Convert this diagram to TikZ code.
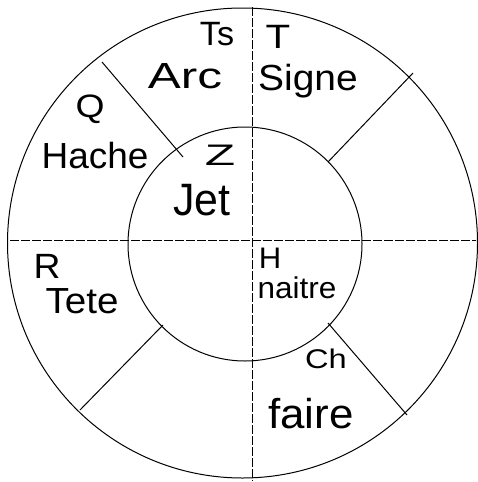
\documentclass[tikz,border=0pt]{standalone}
\usepackage{fontspec}
\setmainfont{Liberation Sans}
\begin{document}
\begin{tikzpicture}[x=1pt,y=-1pt,line width=1pt,
  big/.style={font=\fontsize{33}{33}\selectfont, inner sep=0pt, anchor=base, yscale=1.1},
  small/.style={font=\fontsize{27}{27}\selectfont, xscale=1.15, inner sep=0pt, anchor=base},
  axis/.style={line width=0.9pt, dash pattern=on 9pt off 2pt}]
\useasboundingbox (0,0) rectangle (477,482);
% circles
\coordinate (oc) at (242.5,243);
\coordinate (ic) at (245,244);
\draw (oc) circle[radius=235pt];
\draw (ic) circle[radius=117pt];
% axes
\coordinate (hl) at (10,240);
\coordinate (hr) at (476,240);
\coordinate (vt) at (252,7);
\coordinate (vb) at (252,481);
\draw[axis] (hl) -- (hr);
\draw[axis] (vt) -- (vb);
% diagonal spokes
\coordinate (ulo) at (102,62);   \coordinate (uli) at (183,157);
\coordinate (uro) at (413,73);   \coordinate (uri) at (328,162);
\coordinate (lro) at (407,415);  \coordinate (lri) at (328,323);
\coordinate (llo) at (80,410);   \coordinate (lli) at (163,325);
\draw (ulo) -- (uli);
\draw (uro) -- (uri);
\draw (lro) -- (lri);
\draw (llo) -- (lli);
% labels
\node[small, yscale=1.25, xscale=1.1] (ts) at (217,45) {Ts};
\node[small, yscale=1.25, xscale=1.3] (t) at (278,48) {T};
\node[big, xscale=1.5] (arc) at (185,88) {Arc};
\node[big, xscale=1.18] (signe) at (308,90) {Signe};
\node[small, scale=1.2] (q) at (90,117) {Q};
\node[big, xscale=1.12] (hache) at (95,168) {Hache};
\node[small, yscale=1.1, xscale=1.6] (z) at (220,165) {Z};
\node[big, xscale=1.3, yscale=1.25] (jet) at (202,215) {Jet};
\node[small, yscale=1.3, xscale=1.2] (r) at (47,278) {R};
\node[big, xscale=1.17] (tete) at (82,313) {Tete};
\node[small, yscale=1.1] (h) at (270,268) {H};
\node[font=\fontsize{30}{30}\selectfont, inner sep=0pt, anchor=base, xscale=1.05] (naitre) at (297,298) {naitre};
\node[small, xscale=1.05] (ch) at (326,368) {Ch};
\node[big, xscale=1.33, yscale=1.15] (faire) at (311,428) {faire};
\end{tikzpicture}
\end{document}
